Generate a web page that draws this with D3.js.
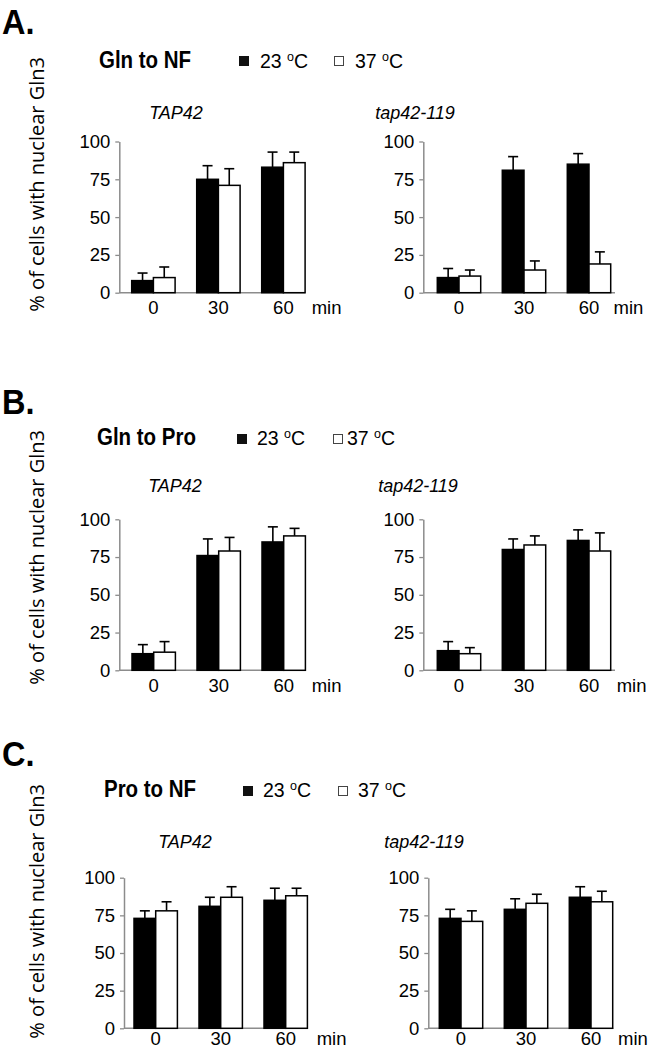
<!DOCTYPE html>
<html>
<head>
<meta charset="utf-8">
<script src="https://cdn.jsdelivr.net/npm/d3@7"></script>
<style>
  body { margin: 0; background: #fff; }
  svg { display: block; }
  text { font-family: "Liberation Sans", Arial, sans-serif; fill: #000; }
</style>
</head>
<body>
<div id="chart"></div>
<script>
// categories
const times = ['0', '30', '60'];
const temps = ['23', '37'];
const conditions = ['Gln to NF', 'Gln to Pro', 'Pro to NF'];
const strains = ['TAP42', 'tap42-119'];
const letters = ['A.', 'B.', 'C.'];
const yTicks = [0, 25, 50, 75, 100];

// % of cells with nuclear Gln3, [23 oC, 37 oC], and the upper error (SD)
const glnNF_TAP42_mean = [[8, 75, 83], [10, 71, 86]];
const glnNF_TAP42_sd = [[5, 9, 10], [7, 11, 7]];
const glnNF_tap42_mean = [[10, 81, 85], [11, 15, 19]];
const glnNF_tap42_sd = [[6, 9, 7], [4, 6, 8]];

const glnPro_TAP42_mean = [[11, 76, 85], [12, 79, 89]];
const glnPro_TAP42_sd = [[6, 11, 10], [7, 9, 5]];
const glnPro_tap42_mean = [[13, 80, 86], [11, 83, 79]];
const glnPro_tap42_sd = [[6, 7, 7], [4, 6, 12]];

const proNF_TAP42_mean = [[73, 81, 85], [78, 87, 88]];
const proNF_TAP42_sd = [[5, 6, 8], [6, 7, 5]];
const proNF_tap42_mean = [[73, 79, 87], [71, 83, 84]];
const proNF_tap42_sd = [[6, 7, 7], [7, 6, 7]];

const means = [
  [glnNF_TAP42_mean, glnNF_tap42_mean],
  [glnPro_TAP42_mean, glnPro_tap42_mean],
  [proNF_TAP42_mean, proNF_tap42_mean]
];
const sds = [
  [glnNF_TAP42_sd, glnNF_tap42_sd],
  [glnPro_TAP42_sd, glnPro_tap42_sd],
  [proNF_TAP42_sd, proNF_tap42_sd]
];

// layout (pixels)
const width = 649;
const height = 1050;
const axisColor = '#8c8c8c';

const rowLayout = [
  { letterY: 33.5, titleX: 99, titleY: 68, sq23X: 239, sqY: 56, t23X: 260, sq37X: 334, t37X: 355,
    strainX: [176, 415], strainY: 119, y0: 292.7, y100: 141.5, labelTop: 57, xLabelDy: 21.5 },
  { letterY: 414, titleX: 97, titleY: 445, sq23X: 237, sqY: 434, t23X: 257, sq37X: 333, t37X: 347,
    strainX: [175, 418], strainY: 492, y0: 670.3, y100: 519.3, labelTop: 430, xLabelDy: 21.5 },
  { letterY: 766, titleX: 104, titleY: 797, sq23X: 243, sqY: 786, t23X: 263, sq37X: 338, t37X: 358,
    strainX: [185, 424], strainY: 848, y0: 1028.3, y100: 877.7, labelTop: 784, xLabelDy: 17 }
];
const colLayout = [
  [ { axisX: 119.3, bar0X: 131.7, step: 65, barW: 21.7, axisEnd: 305.3, minX: 311.7 },
    { axisX: 423.3, bar0X: 437.3, step: 65, barW: 21.7, axisEnd: 615, minX: 613.5 } ],
  [ { axisX: 119.3, bar0X: 132, step: 65, barW: 21.7, axisEnd: 305.3, minX: 311.7 },
    { axisX: 423.3, bar0X: 437.3, step: 65, barW: 21.7, axisEnd: 615, minX: 616.7 } ],
  [ { axisX: 124, bar0X: 134, step: 65, barW: 21.7, axisEnd: 306.7, minX: 316.7 },
    { axisX: 428.3, bar0X: 439.3, step: 65, barW: 21.7, axisEnd: 613.3, minX: 618 } ]
];

const svg = d3.select('#chart').append('svg')
  .attr('width', width)
  .attr('height', height);

// legend text "23 oC" with a raised small o
function tempLabel(g, x, y, t) {
  const txt = g.append('text')
    .attr('x', x)
    .attr('y', y)
    .style('font-size', '19.5px');
  txt.append('tspan').text(t + ' ');
  txt.append('tspan').text('o').style('font-size', '12.5px').attr('dy', -7.5);
  txt.append('tspan').text('C').attr('dy', 7.5);
}

rowLayout.forEach((row, r) => {
  const g = svg.append('g').attr('class', 'row');

  // panel letter
  g.append('text')
    .attr('transform', `translate(2, ${row.letterY}) scale(0.93, 1)`)
    .style('font-size', '35px')
    .style('font-weight', 700)
    .text(letters[r]);

  // condition title
  g.append('text')
    .attr('transform', `translate(${row.titleX}, ${row.titleY}) scale(0.89, 1)`)
    .style('font-size', '23px')
    .style('font-weight', 700)
    .text(conditions[r]);

  // legend
  g.append('rect')
    .attr('x', row.sq23X).attr('y', row.sqY)
    .attr('width', 10).attr('height', 10)
    .attr('fill', '#111');
  tempLabel(g, row.t23X, row.titleY, temps[0]);
  g.append('rect')
    .attr('x', row.sq37X + 0.5).attr('y', row.sqY + 0.5)
    .attr('width', 9).attr('height', 9)
    .attr('fill', '#fff')
    .attr('stroke', '#444')
    .attr('stroke-width', 1);
  tempLabel(g, row.t37X, row.titleY, temps[1]);

  // y axis title
  g.append('text')
    .attr('transform', `translate(44, ${row.labelTop}) rotate(-90)`)
    .attr('text-anchor', 'end')
    .style('font-family', '"Open Sans", "Noto Sans", sans-serif')
    .style('font-size', '20px')
    .text('% of cells with nuclear Gln3');

  const y = d3.scaleLinear().domain([0, 100]).range([row.y0, row.y100]);

  colLayout[r].forEach((col, c) => {
    const pg = g.append('g').attr('class', 'panel');

    // strain title
    pg.append('text')
      .attr('x', row.strainX[c])
      .attr('y', row.strainY)
      .attr('text-anchor', 'middle')
      .style('font-size', '18px')
      .style('font-style', 'italic')
      .text(strains[c]);

    // scales
    const pIn = 1 - 2 * col.barW / col.step;
    const x = d3.scaleBand()
      .domain(times)
      .range([col.bar0X, col.bar0X + 2 * col.step + 2 * col.barW])
      .paddingInner(pIn);
    const xTemp = d3.scaleBand()
      .domain(temps)
      .range([0, x.bandwidth()]);

    // y axis
    const yAxis = pg.append('g')
      .attr('transform', `translate(${col.axisX}, 0)`)
      .call(d3.axisLeft(y).tickValues(yTicks).tickSize(4).tickSizeOuter(0).tickPadding(5));
    yAxis.select('.domain').attr('stroke', axisColor).attr('stroke-width', 1.5);
    yAxis.selectAll('.tick line').attr('stroke', axisColor).attr('stroke-width', 1.3);
    yAxis.selectAll('.tick text')
      .attr('fill', '#000')
      .style('font-family', '"Liberation Sans", Arial, sans-serif')
      .style('font-size', '18.5px');

    // x baseline
    pg.append('line')
      .attr('x1', col.axisX).attr('x2', col.axisEnd)
      .attr('y1', y(0)).attr('y2', y(0))
      .attr('stroke', axisColor)
      .attr('stroke-width', 1.5);

    // bars + error bars
    const rows = [];
    temps.forEach((t, ti) => {
      times.forEach((tm, k) => {
        rows.push({ time: tm, temp: t, ti: ti, v: means[r][c][ti][k], sd: sds[r][c][ti][k] });
      });
    });

    const bar = pg.selectAll('.g-bar')
      .data(rows)
      .enter()
      .append('g')
      .attr('class', 'g-bar');

    bar.append('line')
      .attr('x1', d => x(d.time) + xTemp(d.temp) + xTemp.bandwidth() / 2)
      .attr('x2', d => x(d.time) + xTemp(d.temp) + xTemp.bandwidth() / 2)
      .attr('y1', d => y(d.v))
      .attr('y2', d => y(d.v + d.sd))
      .attr('stroke', '#000')
      .attr('stroke-width', 1.6);

    bar.append('line')
      .attr('x1', d => x(d.time) + xTemp(d.temp) + xTemp.bandwidth() / 2 - 5)
      .attr('x2', d => x(d.time) + xTemp(d.temp) + xTemp.bandwidth() / 2 + 5)
      .attr('y1', d => y(d.v + d.sd))
      .attr('y2', d => y(d.v + d.sd))
      .attr('stroke', '#000')
      .attr('stroke-width', 1.6);

    bar.append('rect')
      .attr('x', d => x(d.time) + xTemp(d.temp))
      .attr('y', d => y(d.v))
      .attr('width', xTemp.bandwidth())
      .attr('height', d => y(0) - y(d.v))
      .attr('fill', d => d.ti === 0 ? '#000' : '#fff')
      .attr('stroke', '#000')
      .attr('stroke-width', 1.5);

    // x labels
    pg.selectAll('.x-label')
      .data(times)
      .enter()
      .append('text')
      .attr('class', 'x-label')
      .attr('x', d => x(d) + x.bandwidth() / 2)
      .attr('y', y(0) + row.xLabelDy)
      .attr('text-anchor', 'middle')
      .style('font-size', '18.5px')
      .text(d => d);

    pg.append('text')
      .attr('x', col.minX)
      .attr('y', y(0) + row.xLabelDy)
      .style('font-size', '18.5px')
      .text('min');
  });
});
</script>
</body>
</html>
